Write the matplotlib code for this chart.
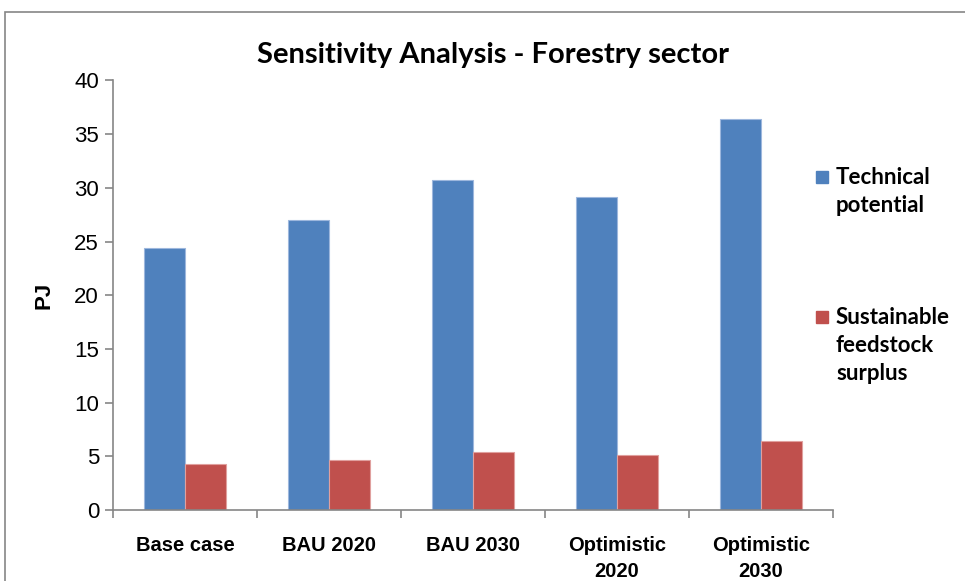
import numpy as np
import matplotlib.pyplot as plt
from matplotlib.patches import Rectangle

# data
categories = ['Base case', 'BAU 2020', 'BAU 2030', 'Optimistic\n2020', 'Optimistic\n2030']
technical = [24.4, 27.0, 30.7, 29.1, 36.4]
sustainable = [4.3, 4.7, 5.4, 5.1, 6.4]
series_names = ['Technical\npotential', 'Sustainable\nfeedstock\nsurplus']
y_ticks = [0, 5, 10, 15, 20, 25, 30, 35, 40]

blue = '#4F81BD'
red = '#C0504D'
grey = '#868686'

fig = plt.figure(figsize=(9.65, 5.81), dpi=100)
ax = fig.add_axes([0.117, 0.1222, 0.746, 0.7394])

# outer chart border (runs off the right/bottom edges like the original)
fig.patches.append(Rectangle((5 / 965, -0.05), 1.1, 1 - 12 / 581 + 0.05,
                             transform=fig.transFigure, fill=False,
                             edgecolor=grey, linewidth=1.2))

x = np.arange(len(categories))
w = 0.285
ax.bar(x - w / 2, technical, w, color=blue, edgecolor='#9DB7DD', linewidth=0.8)
ax.bar(x + w / 2, sustainable, w, color=red, edgecolor='#E0A09E', linewidth=0.8)

ax.set_xlim(-0.5, len(categories) - 0.5)
ax.set_ylim(0, 40)
ax.set_yticks(y_ticks)
ax.set_yticklabels([str(t) for t in y_ticks], fontsize=16, family='Liberation Sans')
ax.tick_params(axis='y', direction='out', length=6, color=grey, width=1.2, pad=4)

ax.set_xticks(x)
ax.set_xticklabels(categories, fontsize=14.5, fontweight='bold',
                   family='Liberation Sans', linespacing=1.45)
ax.tick_params(axis='x', length=0, pad=19)
ax.set_xticks(np.arange(len(categories) + 1) - 0.5, minor=True)
ax.tick_params(axis='x', which='minor', direction='out', length=6, color=grey, width=1.2)

for s in ['top', 'right']:
    ax.spines[s].set_visible(False)
for s in ['left', 'bottom']:
    ax.spines[s].set_color(grey)
    ax.spines[s].set_linewidth(1.2)

ax.set_ylabel('PJ', fontsize=16, fontweight='bold', labelpad=14, family='Liberation Sans')

fig.text(493 / 965, 1 - 55 / 581, 'Sensitivity Analysis - Forestry sector',
         ha='center', va='center', fontsize=21, fontweight='bold', family='Lato')

# legend on the right, marker aligned with first line of text
leg_y = [176, 316]
for name, col, yy in zip(series_names, [blue, red], leg_y):
    fig.patches.append(Rectangle((816 / 965, 1 - (yy + 7) / 581), 12 / 965, 12 / 581,
                                 transform=fig.transFigure, color=col))
    fig.text(836 / 965, 1 - (yy - 9) / 581, name, ha='left', va='top',
             fontsize=16, fontweight='bold', family='Lato', linespacing=1.42)

fig.savefig('out.png', dpi=100)
